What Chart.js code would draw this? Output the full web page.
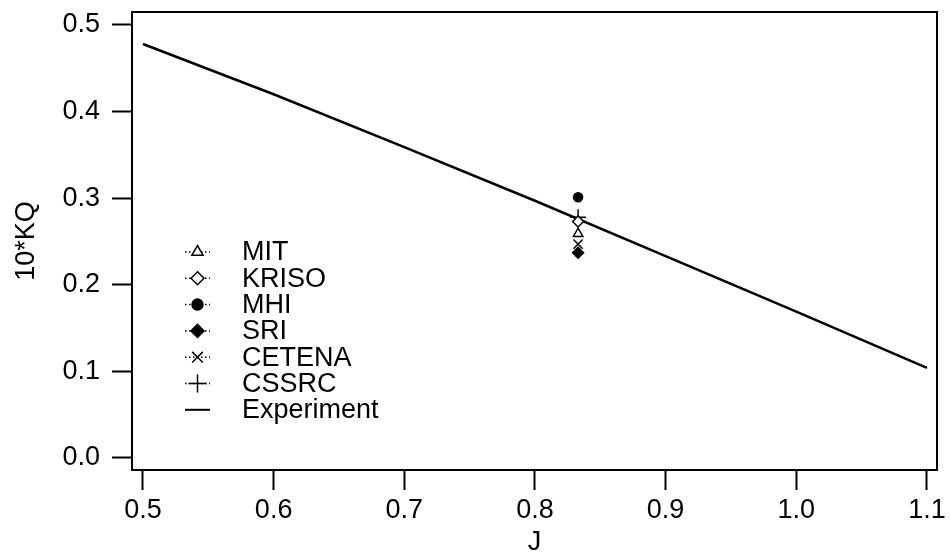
<!DOCTYPE html>
<html>
<head>
<meta charset="utf-8">
<script src="https://cdn.jsdelivr.net/npm/chart.js@4/dist/chart.umd.min.js"></script>
<style>
  html, body { margin: 0; padding: 0; background: #fff; }
  #wrap { width: 950px; height: 559px; }
</style>
</head>
<body>
<div id="wrap"><canvas id="kqChart" width="950" height="559"></canvas></div>
<script>
// data
const expJ = [0.5, 0.6, 0.7, 0.8, 0.9, 1.0, 1.1];
const expKQ = [0.478, 0.420, 0.359, 0.297, 0.233, 0.169, 0.104];

const codeNames = ['MIT', 'KRISO', 'MHI', 'SRI', 'CETENA', 'CSSRC'];
const codeJ = [0.833, 0.833, 0.833, 0.833, 0.833, 0.833];
const codeKQ = [0.259, 0.273, 0.301, 0.237, 0.247, 0.278];

const xTicks = [0.5, 0.6, 0.7, 0.8, 0.9, 1.0, 1.1];
const yTicks = [0.0, 0.1, 0.2, 0.3, 0.4, 0.5];

const FONT = 'Liberation Sans, Arial, Helvetica, sans-serif';
const FSIZE = 27;

// marker look for each code
const markerStyle = {
    MIT:    { pointStyle: 'triangle', fill: false, r: 5.5 },
    KRISO:  { pointStyle: 'rectRot',  fill: false, r: 5.5 },
    MHI:    { pointStyle: 'circle',   fill: true,  r: 4.5 },
    SRI:    { pointStyle: 'rectRot',  fill: true,  r: 5.5 },
    CETENA: { pointStyle: 'crossRot', fill: false, r: 6.5 },
    CSSRC:  { pointStyle: 'cross',    fill: false, r: 8 }
};

const datasets = codeNames.map((name, i) => {
    const m = markerStyle[name];
    return {
        label: name,
        type: 'scatter',
        data: [{ x: codeJ[i], y: codeKQ[i] }],
        pointStyle: m.pointStyle,
        pointRadius: m.r,
        pointBorderColor: '#000',
        pointBackgroundColor: m.fill ? '#000' : '#fff',
        pointBorderWidth: 1.5,
        showLine: false
    };
});

datasets.push({
    label: 'Experiment',
    type: 'line',
    data: expJ.map((j, i) => ({ x: j, y: expKQ[i] })),
    borderColor: '#000',
    borderWidth: 2.5,
    pointRadius: 0,
    fill: false
});

// frame around the plot
const frame = {
    id: 'frame',
    afterDraw(chart) {
        const { ctx, chartArea: a } = chart;
        ctx.save();
        ctx.strokeStyle = '#000';
        ctx.lineWidth = 2;
        ctx.strokeRect(a.left, a.top, a.right - a.left, a.bottom - a.top);
        ctx.restore();
    }
};

// legend inside the plot, lower left
const innerLegend = {
    id: 'innerLegend',
    afterDraw(chart) {
        const ctx = chart.ctx;
        const x0 = 185, x1 = 210, xm = 197.5, tx = 242;
        const y0 = 252, dy = 26.3;
        ctx.save();
        ctx.font = FSIZE + 'px ' + FONT;
        ctx.textBaseline = 'middle';
        ctx.fillStyle = '#000';
        chart.data.datasets.forEach((ds, i) => {
            const y = y0 + i * dy;
            ctx.strokeStyle = '#000';
            if (ds.type === 'line') {
                ctx.lineWidth = 2;
                ctx.setLineDash([]);
            } else {
                ctx.lineWidth = 1.5;
                ctx.setLineDash([1.5, 2.5]);
            }
            ctx.beginPath();
            ctx.moveTo(x0, y);
            ctx.lineTo(x1, y);
            ctx.stroke();
            ctx.setLineDash([]);
            if (ds.type !== 'line') {
                ctx.fillStyle = ds.pointBackgroundColor;
                ctx.lineWidth = 1.5;
                Chart.helpers.drawPoint(ctx, {
                    pointStyle: ds.pointStyle,
                    radius: ds.pointRadius + 1,
                    rotation: 0,
                    borderWidth: 1.5
                }, xm, y);
                ctx.fillStyle = '#000';
            }
            ctx.fillText(ds.label, tx, y + 1);
        });
        ctx.restore();
    }
};

new Chart(document.getElementById('kqChart'), {
    type: 'scatter',
    data: { datasets: datasets },
    options: {
        responsive: false,
        animation: false,
        layout: { padding: { top: 12, right: 13, left: 0, bottom: 0 } },
        plugins: {
            legend: { display: false },
            tooltip: { enabled: false }
        },
        scales: {
            x: {
                type: 'linear',
                min: 0.4916,
                max: 1.1077,
                afterFit(scale) {
                    scale.height = 89;
                    scale.paddingLeft = 0;
                    scale.paddingRight = 0;
                },
                afterBuildTicks(scale) { scale.ticks = xTicks.map(v => ({ value: v })); },
                grid: { drawOnChartArea: false, tickLength: 20, tickColor: '#000', tickWidth: 2 },
                border: { display: false },
                ticks: {
                    color: '#000',
                    padding: 4,
                    maxRotation: 0,
                    font: { family: FONT, size: FSIZE },
                    callback: v => v.toFixed(1)
                },
                title: {
                    display: true,
                    text: 'J',
                    color: '#000',
                    font: { family: FONT, size: FSIZE },
                    padding: { top: 0, bottom: 0 }
                }
            },
            y: {
                type: 'linear',
                min: -0.0139,
                max: 0.515,
                afterFit(scale) {
                    scale.width = 132;
                    scale.paddingTop = 0;
                    scale.paddingBottom = 0;
                },
                afterBuildTicks(scale) { scale.ticks = yTicks.map(v => ({ value: v })); },
                grid: { drawOnChartArea: false, tickLength: 20, tickColor: '#000', tickWidth: 2 },
                border: { display: false },
                ticks: {
                    color: '#000',
                    padding: 12,
                    font: { family: FONT, size: FSIZE },
                    callback: v => v.toFixed(1)
                },
                title: {
                    display: true,
                    text: '10*KQ',
                    color: '#000',
                    font: { family: FONT, size: FSIZE },
                    padding: { top: 10, bottom: 0 }
                }
            }
        }
    },
    plugins: [frame, innerLegend]
});
</script>
</body>
</html>
